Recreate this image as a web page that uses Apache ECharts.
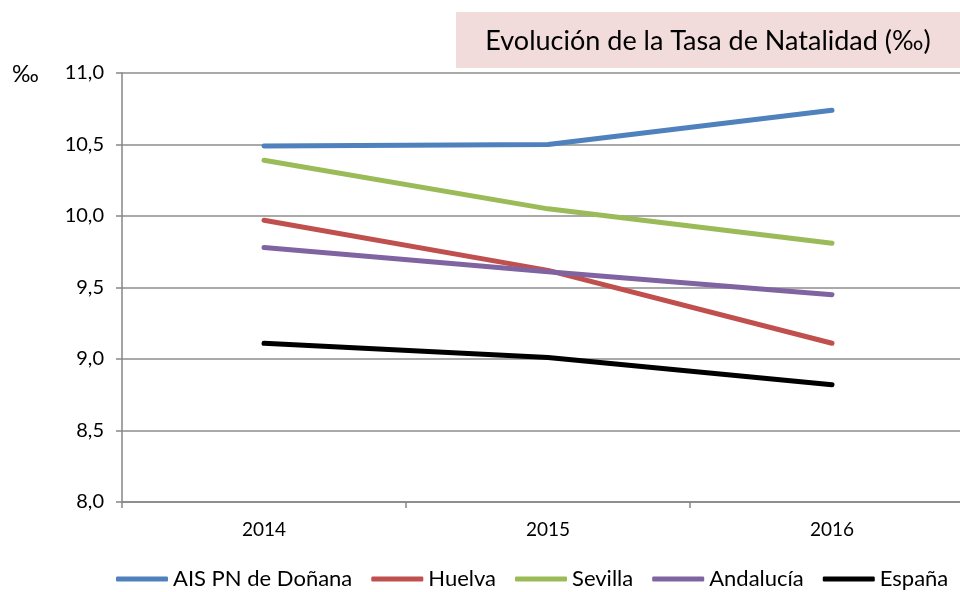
<!DOCTYPE html>
<html>
<head>
<meta charset="utf-8">
<script src="https://cdn.jsdelivr.net/npm/echarts@6/dist/echarts.min.js"></script>
<style>
  html, body { margin: 0; padding: 0; background: #fff; }
  #chart { width: 960px; height: 592px; }
</style>
</head>
<body>
<div id="chart"></div>
<script>
const years = ["2014", "2015", "2016"];
const seriesNames = ["AIS PN de Doñana", "Huelva", "Sevilla", "Andalucía", "España"];
const donana = [10.49, 10.50, 10.74];
const huelva = [9.97, 9.62, 9.11];
const sevilla = [10.39, 10.05, 9.81];
const andalucia = [9.78, 9.61, 9.45];
const espana = [9.11, 9.01, 8.82];
const colors = ["#4F81BD", "#C0504D", "#9BBB59", "#8064A2", "#000000"];

const font = "Lato, 'Open Sans', sans-serif";

const chart = echarts.init(document.getElementById("chart"));

const makeLine = (name, data, color) => ({
  name: name,
  type: "line",
  data: data,
  symbol: "none",
  lineStyle: { width: 5, color: color, cap: "round" },
  itemStyle: { color: color }
});

chart.setOption({
  animation: false,
  textStyle: { fontFamily: font },
  grid: { left: 122, width: 852, top: 73, bottom: 90, outerBoundsMode: "none" },
  graphic: [
    {
      type: "rect",
      shape: { x: 456, y: 12, width: 504, height: 56 },
      style: { fill: "#F2DCDB" }
    },
    {
      type: "text",
      x: 708, y: 41,
      style: {
        text: "Evolución de la Tasa de Natalidad (‰)",
        fontFamily: font, fontSize: 27, fill: "#000",
        align: "center", verticalAlign: "middle"
      }
    },
    {
      type: "text",
      x: 12, y: 75,
      style: {
        text: "‰", fontFamily: font, fontSize: 23, fill: "#000",
        verticalAlign: "middle"
      }
    }
  ],
  legend: {
    bottom: -3,
    left: 111,
    icon: "roundRect",
    itemWidth: 52,
    itemHeight: 5,
    itemGap: 19,
    textStyle: { fontFamily: font, fontSize: 22, color: "#000", padding: [0, 0, 0, 0] },
    data: seriesNames
  },
  xAxis: {
    type: "category",
    data: years,
    boundaryGap: true,
    axisLine: { lineStyle: { color: "#868686", width: 1.5 } },
    axisTick: { show: true, length: 6, lineStyle: { color: "#868686", width: 1.5 } },
    axisLabel: { color: "#000", fontSize: 19, margin: 18, fontFamily: font },
    splitLine: { show: false }
  },
  yAxis: {
    type: "value",
    min: 8,
    max: 11,
    interval: 0.5,
    axisLine: { show: true, lineStyle: { color: "#868686", width: 1.5 } },
    axisTick: { show: true, length: 6, lineStyle: { color: "#868686", width: 1.5 } },
    axisLabel: {
      color: "#000", fontSize: 20, margin: 18, fontFamily: font,
      formatter: v => v.toFixed(1).replace(".", ",")
    },
    splitLine: { lineStyle: { color: "#8c8c8c", width: 1.5 } }
  },
  series: [
    makeLine(seriesNames[0], donana, colors[0]),
    makeLine(seriesNames[1], huelva, colors[1]),
    makeLine(seriesNames[2], sevilla, colors[2]),
    makeLine(seriesNames[3], andalucia, colors[3]),
    makeLine(seriesNames[4], espana, colors[4])
  ]
});
</script>
</body>
</html>
